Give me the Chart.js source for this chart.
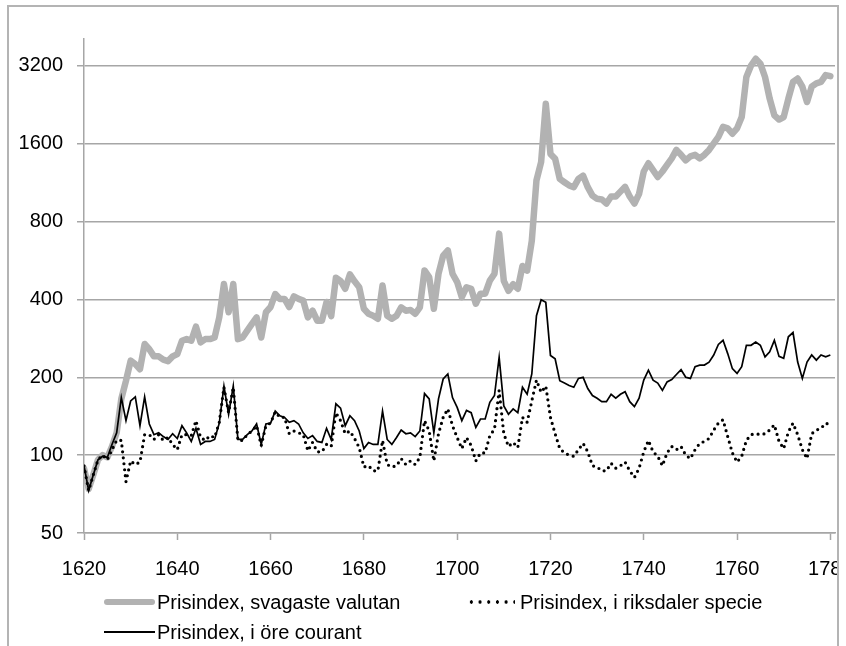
<!DOCTYPE html>
<html>
<head>
<meta charset="utf-8">
<script src="https://cdn.jsdelivr.net/npm/chart.js@4/dist/chart.umd.min.js"></script>
<style>
  body { margin: 0; background: #fff; font-family: "Liberation Sans", Arial, sans-serif; }
  #frame { position: absolute; left: 7px; top: 5px; width: 832px; height: 700px;
           box-sizing: border-box; border: 2px solid #b4b4b4; overflow: hidden; }
  #frame canvas { position: absolute; left: -9px; top: -7px; }
  .key { position: absolute; height: 24px; display: flex; align-items: center;
         font-size: 20px; color: #000; white-space: nowrap; }
  .sw-gray { width: 51px; height: 6px; border-radius: 3px; background: #b2b2b2; margin-right: 2px; }
  .sw-line { width: 51px; height: 2px; background: #000; margin-right: 2px; }
  .sw-dot { width: 48px; height: 4px; margin-right: 5px;
            background: radial-gradient(circle, #000 1.5px, transparent 1.9px) 0 0 / 8.7px 4px repeat-x; }
</style>
</head>
<body>
<div id="frame"><canvas id="chart" width="880" height="646"></canvas></div>
<div class="key" style="left:104px; top:590px;"><span class="sw-gray"></span>Prisindex, svagaste valutan</div>
<div class="key" style="left:467px; top:590px;"><span class="sw-dot"></span>Prisindex, i riksdaler specie</div>
<div class="key" style="left:104px; top:620px;"><span class="sw-line"></span>Prisindex, i öre courant</div>
<script>
const firstYear = 1620;

// Prisindex, svagaste valutan
const weakest = [
  89, 74, 84, 96, 100, 98, 108, 122, 165, 194,
  232, 225, 215, 269, 257, 241, 241, 234, 231, 241,
  246, 277, 281, 277, 314, 273, 281, 281, 285, 341,
  459, 357, 459, 281, 285, 303, 322, 341, 285, 357,
  374, 420, 402, 402, 374, 411, 402, 396, 341, 362,
  331, 331, 391, 345, 485, 472, 440, 500, 470, 446,
  368, 352, 346, 337, 453, 346, 337, 346, 373, 362,
  364, 352, 373, 518, 488, 368, 503, 591, 619, 503,
  467, 408, 446, 440, 385, 421, 421, 473, 503, 719,
  472, 432, 458, 440, 539, 517, 675, 1155, 1360, 2287,
  1462, 1400, 1170, 1136, 1104, 1087, 1170, 1205, 1087, 1008,
  980, 975, 940, 1000, 1000, 1045, 1090, 1000, 940, 1025,
  1250, 1345, 1265, 1190, 1250, 1325, 1405, 1515, 1450, 1380,
  1430, 1450, 1405, 1450, 1515, 1605, 1700, 1860, 1835, 1750,
  1835, 2030, 2900, 3210, 3410, 3265, 2900, 2390, 2060, 1985,
  2030, 2390, 2775, 2860, 2660, 2320, 2660, 2740, 2775, 2950,
  2920
];

// Prisindex, i riksdaler specie
const specie = [
  91, 73, 84, 96, 100, 96, 105, 114, 114, 79,
  95, 92, 94, 120, 120, 115, 120, 114, 117, 110,
  105, 120, 120, 119, 136, 117, 114, 119, 117, 134,
  183, 146, 183, 114, 114, 120, 124, 130, 109, 130,
  133, 147, 140, 140, 121, 124, 122, 120, 104, 112,
  103, 103, 110, 108, 146, 136, 121, 124, 116, 107,
  90, 91, 87, 87, 114, 92, 90, 91, 97, 92,
  95, 92, 98, 136, 124, 95, 121, 140, 151, 130,
  117, 106, 117, 109, 95, 102, 102, 119, 126, 178,
  121, 108, 112, 107, 140, 134, 162, 195, 175, 185,
  140, 121, 106, 102, 100, 99, 105, 111, 103, 91,
  90, 87, 87, 93, 89, 91, 94, 87, 82, 89,
  103, 114, 103, 99, 91, 102, 108, 105, 108, 100,
  97, 105, 111, 113, 116, 125, 133, 137, 118, 102,
  94, 99, 114, 120, 121, 120, 121, 125, 131, 113,
  106, 123, 133, 120, 105, 97, 121, 125, 127, 133,
  131
];

// Prisindex, i öre courant
const courant = [
  91, 73, 84, 96, 99, 98, 110, 122, 167, 136,
  162, 168, 130, 168, 132, 120, 122, 118, 115, 121,
  116, 130, 122, 113, 127, 110, 113, 113, 115, 133,
  185, 144, 185, 115, 115, 120, 124, 132, 110, 132,
  133, 148, 142, 140, 134, 136, 132, 122, 116, 119,
  113, 112, 127, 115, 158, 152, 130, 142, 136, 124,
  106, 112, 110, 110, 148, 115, 110, 117, 125, 121,
  122, 118, 124, 173, 165, 122, 165, 197, 206, 167,
  153, 136, 149, 146, 128, 138, 138, 160, 170, 239,
  155, 144, 151, 146, 183, 172, 206, 346, 399, 390,
  243, 236, 194, 190, 186, 183, 198, 200, 181, 170,
  166, 161, 161, 172, 166, 172, 176, 161, 154, 166,
  195, 213, 195, 190, 178, 192, 196, 205, 214, 200,
  198, 220, 223, 223, 229, 244, 268, 278, 247, 216,
  207, 220, 266, 266, 274, 266, 240, 251, 278, 241,
  237, 287, 298, 229, 198, 229, 244, 233, 244, 240,
  244
];

const xTicks = [1620, 1640, 1660, 1680, 1700, 1720, 1740, 1760, 1780];
const yTicks = [50, 100, 200, 400, 800, 1600, 3200];

const toPoints = values => values.map((v, i) => ({ x: firstYear + i, y: v }));

const axisGrey = '#a6a6a6';
const tickFont = { family: '"Liberation Sans", Arial, sans-serif', size: 20 };

new Chart(document.getElementById('chart'), {
  type: 'line',
  data: {
    datasets: [
      {
        label: 'Prisindex, svagaste valutan',
        data: toPoints(weakest),
        borderColor: '#b2b2b2',
        borderWidth: 6.5,
        borderJoinStyle: 'round',
        borderCapStyle: 'round',
        order: 3
      },
      {
        label: 'Prisindex, i öre courant',
        data: toPoints(courant),
        borderColor: '#000',
        borderWidth: 1.7,
        order: 2
      },
      {
        label: 'Prisindex, i riksdaler specie',
        data: toPoints(specie),
        borderColor: '#000',
        borderWidth: 3.2,
        borderDash: [0, 6],
        borderCapStyle: 'round',
        order: 1
      }
    ]
  },
  options: {
    responsive: false,
    animation: false,
    devicePixelRatio: 1,
    layout: { padding: { left: 0, top: 39, right: 45, bottom: 53 } },
    elements: { point: { radius: 0 }, line: { tension: 0, fill: false } },
    plugins: { legend: { display: false }, tooltip: { enabled: false } },
    scales: {
      x: {
        type: 'linear',
        min: 1620,
        max: 1781,
        afterBuildTicks: scale => { scale.ticks = xTicks.map(v => ({ value: v })); },
        afterFit: scale => { scale.height = 60; },
        grid: { drawOnChartArea: false, tickLength: 7, tickColor: axisGrey, tickWidth: 1.5 },
        border: { color: axisGrey, width: 1.5 },
        ticks: { autoSkip: false, maxRotation: 0, padding: 17, color: '#000', font: tickFont,
                 callback: v => String(v) }
      },
      y: {
        type: 'logarithmic',
        min: 50,
        max: 4067,
        afterBuildTicks: scale => { scale.ticks = yTicks.map(v => ({ value: v })); },
        afterFit: scale => { scale.width = 84; },
        grid: { color: axisGrey, lineWidth: 1.5, tickLength: 7, tickColor: axisGrey },
        border: { color: axisGrey, width: 1.5 },
        ticks: { padding: 14, color: '#000', font: tickFont, callback: v => String(v) }
      }
    }
  }
});
</script>
</body>
</html>
